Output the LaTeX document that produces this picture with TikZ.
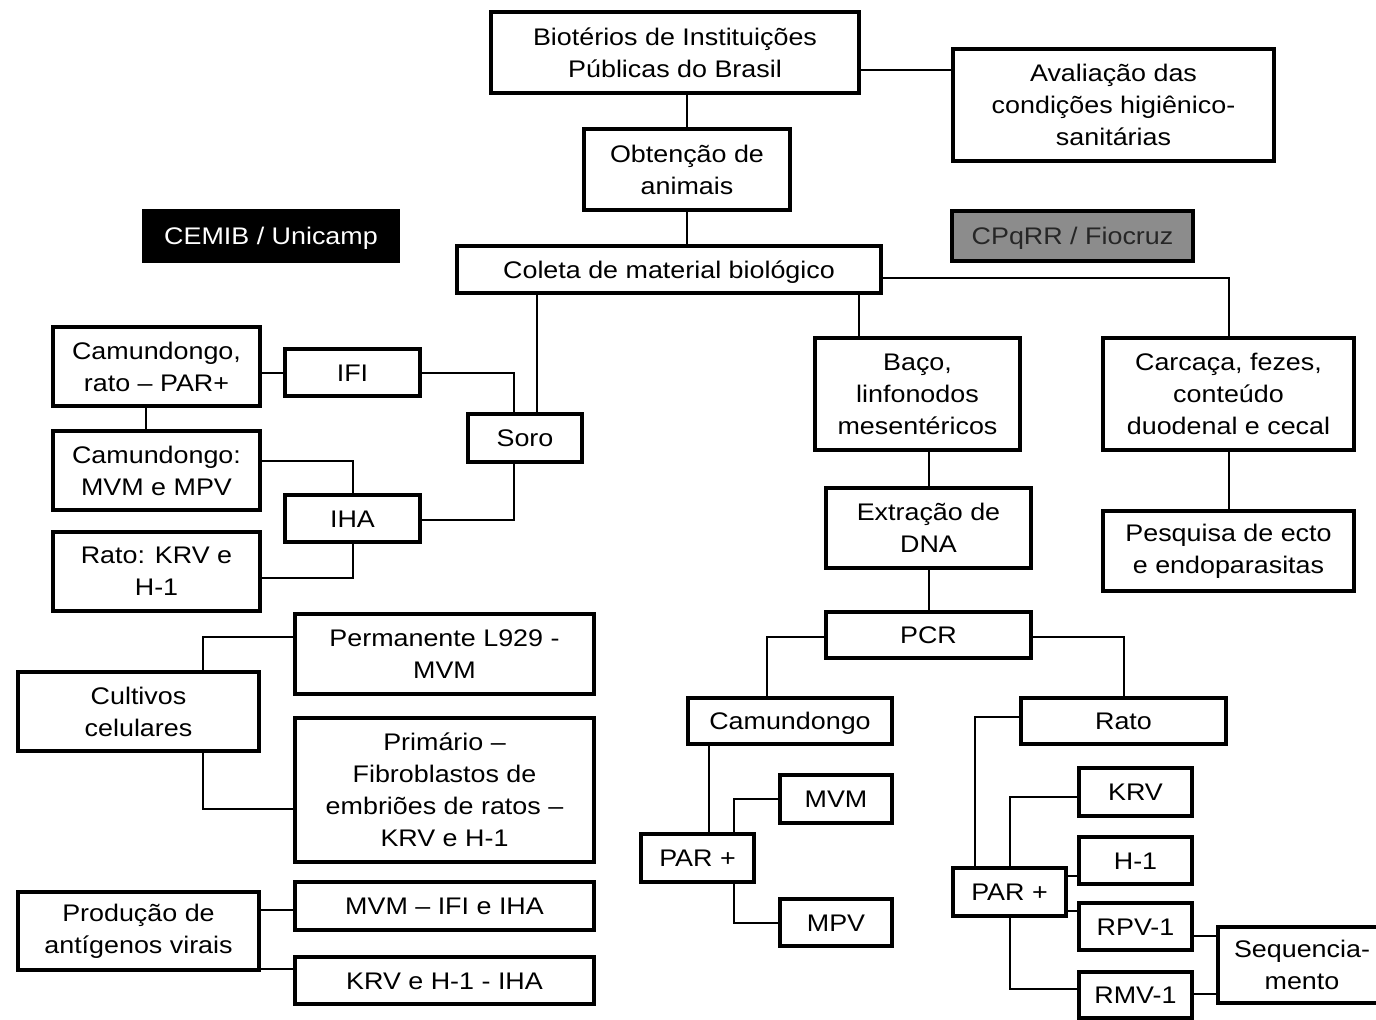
\documentclass[tikz,border=0pt]{standalone}
\usepackage{fontspec}
\setmainfont{Liberation Sans}[FakeStretch=1.12]
\begin{document}
\begin{tikzpicture}[x=0.5pt,y=-0.5pt,
  bx/.style={draw, line width=2pt, align=center, inner sep=0pt, fill=white,
    font=\fontsize{12}{16}\selectfont},
  sl/.style={text height=8.6pt, text depth=0pt},
  ln/.style={line width=1pt}]
\useasboundingbox (0,0) rectangle (1376,1019);
\clip (0,0) rectangle (1376,1019);
% top
\node[bx, minimum width=184pt, minimum height=40.5pt] (bio) at (675,52.5) {Biotérios de Instituições\\Públicas do Brasil};
\node[bx, minimum width=160.5pt, minimum height=56pt] (aval) at (1113.5,105) {Avaliação das\\condições higiênico-\\sanitárias};
\node[bx, minimum width=103pt, minimum height=40.5pt] (obt) at (687,169.5) {Obtenção de\\animais};
\node[bx, sl, draw=none, fill=black, text=white, minimum width=129pt, minimum height=27pt] (cemib) at (271,236) {CEMIB / Unicamp};
\node[bx, sl, fill=black!45, text=black!85, minimum width=120.5pt, minimum height=25pt] (cpq) at (1072.5,236) {CPqRR / Fiocruz};
\node[bx, sl, minimum width=212pt, minimum height=23.5pt] (col) at (669,269.5) {Coleta de material biológico};
% left serology
\node[bx, sl, minimum width=57pt, minimum height=24pt] (soro) at (525,438) {Soro};
\node[bx, sl, minimum width=67.5pt, minimum height=23.5pt] (ifi) at (352.5,372.5) {IFI};
\node[bx, sl, minimum width=67.5pt, minimum height=23.5pt] (iha) at (352.5,518.5) {IHA};
\node[bx, minimum width=103.5pt, minimum height=39.5pt] (camrato) at (156.5,366.5) {Camundongo,\\rato -- PAR+};
\node[bx, minimum width=103.5pt, minimum height=39.5pt] (cammvm) at (156.5,470.5) {Camundongo:\\MVM e MPV};
\node[bx, minimum width=103.5pt, minimum height=39.5pt] (ratokrv) at (156.5,571.5) {Rato: KRV e\\H-1};
% cultures
\node[bx, minimum width=149.5pt, minimum height=40pt] (perm) at (444.5,654) {Permanente L929 -\\MVM};
\node[bx, minimum width=120.5pt, minimum height=39.5pt] (cult) at (138.5,711.5) {Cultivos\\celulares};
\node[bx, minimum width=149.5pt, minimum height=72pt] (prim) at (444.5,790) {Primário --\\Fibroblastos de\\embriões de ratos --\\KRV e H-1};
\node[bx, minimum width=120.5pt, minimum height=39pt] (prod) at (138.5,931) {Produção de\\antígenos virais};
\node[bx, sl, minimum width=149.5pt, minimum height=24pt] (mvmifi) at (444.5,906) {MVM -- IFI e IHA};
\node[bx, sl, minimum width=149.5pt, minimum height=23.5pt] (krviha) at (444.5,980.5) {KRV e H-1 - IHA};
% right
\node[bx, minimum width=102.5pt, minimum height=56pt] (baco) at (917.5,394) {Baço,\\linfonodos\\mesentéricos};
\node[bx, minimum width=125.5pt, minimum height=56pt] (carc) at (1228.5,394) {Carcaça, fezes,\\conteúdo\\duodenal e cecal};
\node[bx, minimum width=102.5pt, minimum height=40pt] (extr) at (928.5,528) {Extração de\\DNA};
\node[bx, minimum width=125.5pt, minimum height=40pt] (pesq) at (1228.5,551) {Pesquisa de ecto\\e endoparasitas};
\node[bx, sl, minimum width=102.5pt, minimum height=23pt] (pcr) at (928.5,635) {PCR};
\node[bx, sl, minimum width=102pt, minimum height=23pt] (camr) at (790,721) {Camundongo};
\node[bx, sl, minimum width=102.5pt, minimum height=23pt] (rato) at (1123.5,721) {Rato};
\node[bx, sl, minimum width=56pt, minimum height=24pt] (mvmr) at (836,799) {MVM};
\node[bx, sl, minimum width=56.5pt, minimum height=24pt] (parl) at (697.5,858) {PAR +};
\node[bx, sl, minimum width=56pt, minimum height=23.5pt] (mpv) at (836,922.5) {MPV};
\node[bx, sl, minimum width=56.5pt, minimum height=24pt] (parr) at (1009.5,892) {PAR +};
\node[bx, sl, minimum width=56.5pt, minimum height=24pt] (krv) at (1135.5,792) {KRV};
\node[bx, sl, minimum width=56.5pt, minimum height=23.5pt] (h1) at (1135.5,860.5) {H-1};
\node[bx, sl, minimum width=56.5pt, minimum height=23.5pt] (rpv) at (1135.5,926.5) {RPV-1};
\node[bx, sl, minimum width=56.5pt, minimum height=23pt] (rmv) at (1135.5,995) {RMV-1};
\node[bx, minimum width=84pt, minimum height=38pt] (seq) at (1302,965) {Sequencia-\\mento};
% connectors
\draw[ln] (bio.east |- 0,70) -- (aval.west |- 0,70);
\draw[ln] (obt.north) -- (obt.north |- bio.south);
\draw[ln] (obt.south) -- (obt.south |- col.north);
\draw[ln] (537,0 |- col.south) -- (537,0 |- soro.north);
\draw[ln] (859,0 |- col.south) -- (859,0 |- baco.north);
\draw[ln] (col.east |- 0,278) -| (carc.north);
\draw[ln] (ifi.east) -| (514,0 |- soro.north);
\draw[ln] (iha.east |- 0,520) -| (514,0 |- soro.south);
\draw[ln] (camrato.east |- ifi.west) -- (ifi.west);
\draw[ln] (146,0 |- camrato.south) -- (146,0 |- cammvm.north);
\draw[ln] (cammvm.east |- 0,461) -| (iha.north);
\draw[ln] (ratokrv.east |- 0,578) -| (iha.south);
\draw[ln] (203,0 |- cult.north) |- (perm.west |- 0,637);
\draw[ln] (203,0 |- cult.south) |- (prim.west |- 0,809);
\draw[ln] (prod.east |- 0,910) -- (mvmifi.west |- 0,910);
\draw[ln] (prod.east |- 0,969) -- (krviha.west |- 0,969);
\draw[ln] (extr.north) -- (extr.north |- baco.south);
\draw[ln] (pesq.north) -- (pesq.north |- carc.south);
\draw[ln] (pcr.north) -- (pcr.north |- extr.south);
\draw[ln] (pcr.west |- 0,637) -| (767,0 |- camr.north);
\draw[ln] (pcr.east |- 0,637) -| (rato.north);
\draw[ln] (709,0 |- camr.south) -- (709,0 |- parl.north);
\draw[ln] (734,0 |- parl.north) |- (mvmr.west);
\draw[ln] (734,0 |- parl.south) |- (mpv.west);
\draw[ln] (rato.west |- 0,717) -| (975,0 |- parr.north);
\draw[ln] (1010,0 |- parr.north) |- (krv.west |- 0,797);
\draw[ln] (parr.east |- 0,876) -- (h1.west |- 0,876);
\draw[ln] (parr.east |- 0,911) -- (rpv.west |- 0,911);
\draw[ln] (1010,0 |- parr.south) |- (rmv.west |- 0,989);
\draw[ln] (rpv.east |- 0,936) -- (seq.west |- 0,936);
\draw[ln] (rmv.east |- 0,994) -- (seq.west |- 0,994);
\end{tikzpicture}
\end{document}
